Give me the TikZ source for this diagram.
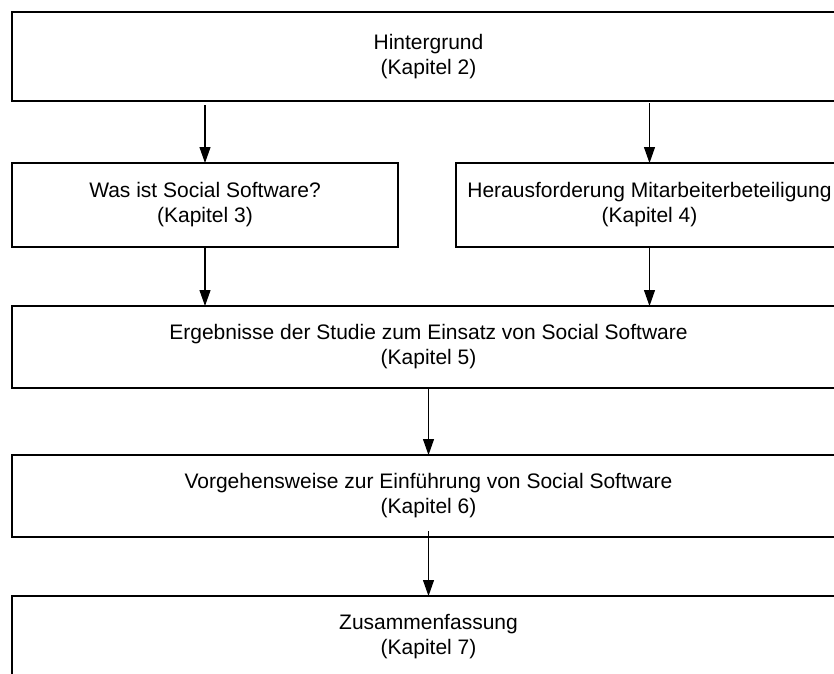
\documentclass[tikz,border=0pt]{standalone}
\usepackage{fontspec}
\setmainfont{Liberation Sans}
\usetikzlibrary{arrows.meta}
\begin{document}
\begin{tikzpicture}[x=1pt,y=-1pt,
  box/.style={draw=black, line width=1.2pt, inner sep=0pt, outer sep=0pt,
    align=center, font=\fontsize{21}{25}\selectfont, text=black},
  conn/.style={line width=1.1pt, -{Triangle[length=16pt,width=11pt]}}]
\useasboundingbox[fill=white] (0,0) rectangle (834,673);
\node[box, minimum width=833pt, minimum height=89pt] (b1) at (428.5,56.5) {Hintergrund\\(Kapitel 2)};
\node[box, minimum width=386pt, minimum height=84pt] (b2) at (205,205) {Was ist Social Software?\\(Kapitel 3)};
\node[box, minimum width=387pt, minimum height=84pt] (b3) at (649.5,205) {Herausforderung Mitarbeiterbeteiligung\\(Kapitel 4)};
\node[box, minimum width=833pt, minimum height=82pt] (b4) at (428.5,347) {Ergebnisse der Studie zum Einsatz von Social Software\\(Kapitel 5)};
\node[box, minimum width=833pt, minimum height=82pt] (b5) at (428.5,496) {Vorgehensweise zur Einführung von Social Software\\(Kapitel 6)};
\node[box, minimum width=833pt, minimum height=82pt] (b6) at (428.5,637) {Zusammenfassung\\(Kapitel 7)};
\draw[conn] ([yshift=-4pt]b1.south -| b2.north) -- (b2.north);
\draw[conn] ([yshift=-2pt]b1.south -| b3.north) -- (b3.north);
\draw[conn] (b2.south) -- (b2.south |- b4.north);
\draw[conn] (b3.south) -- (b3.south |- b4.north);
\draw[conn] (b4.south) -- (b5.north);
\draw[conn] ([yshift=6pt]b5.south) -- (b6.north);
\end{tikzpicture}
\end{document}
